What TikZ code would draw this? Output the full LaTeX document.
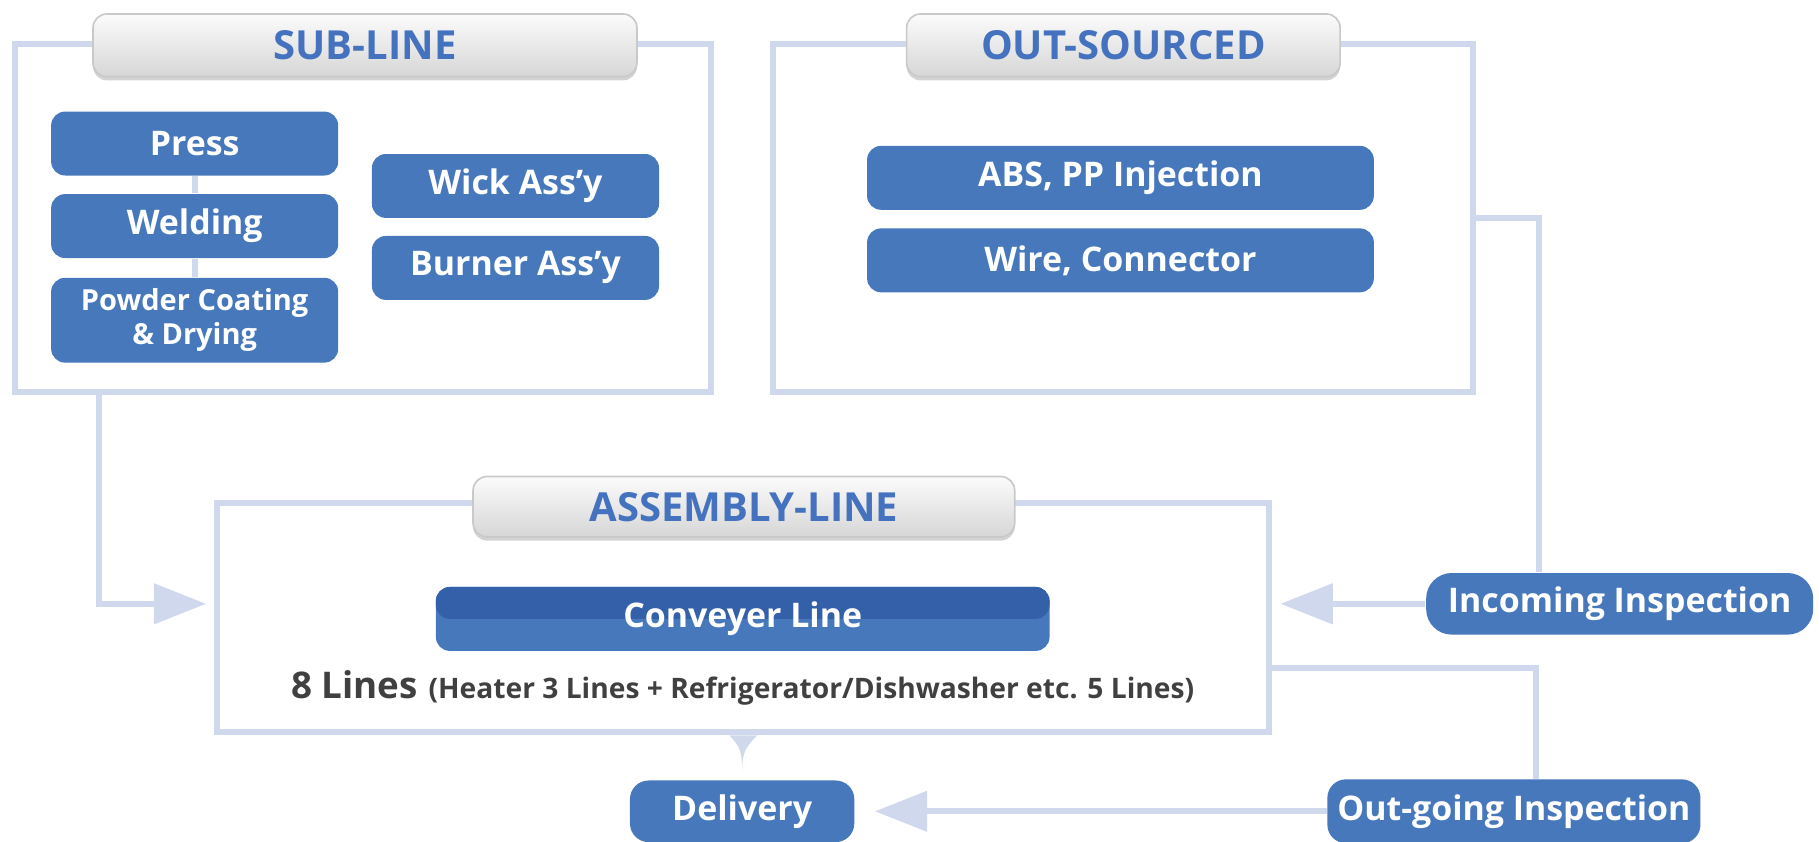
\documentclass[tikz,border=0pt]{standalone}
\usepackage{fontspec}
\setmainfont{Open Sans}
\usetikzlibrary{arrows.meta,shadows}
\definecolor{linkc}{RGB}{208,216,238}
\definecolor{boxc}{RGB}{70,120,187}
\definecolor{convtop}{RGB}{51,96,168}
\definecolor{titlec}{RGB}{68,114,190}
\definecolor{notec}{RGB}{64,64,64}
\tikzset{>/.tip={Triangle[length=0.45cm,width=0.34cm]},
  frame/.style={draw=linkc,line width=1.5pt,inner sep=0pt},
  tab/.style={rounded corners=0.12cm,top color=gray!3,bottom color=gray!32,draw=gray!42,
    line width=0.4pt,drop shadow={shadow xshift=0pt,shadow yshift=-0.9pt,opacity=0.35},
    text=titlec,font=\bfseries\fontsize{9.8}{12}\selectfont,minimum height=0.54cm,inner sep=0pt},
  stage/.style={fill=boxc,rounded corners=0.12cm,text=white,align=center,inner sep=0pt,
    font=\bfseries\fontsize{8.3}{9.3}\selectfont,minimum height=0.55cm,minimum width=2.47cm},
  check/.style={stage,rounded corners=0.22cm},
  link/.style={draw=linkc,line width=1.5pt}}

\begin{document}
\begin{tikzpicture}
\useasboundingbox (0,0) rectangle (15.65,7.24);

% frames
\node[frame,minimum width=5.99cm,minimum height=2.99cm] (sub) at (3.125,5.365) {};
\node[frame,minimum width=6.02cm,minimum height=2.99cm] (out) at (9.66,5.365) {};
\node[frame,minimum width=9.05cm,minimum height=1.97cm] (asm) at (6.395,1.925) {};

\node[tab,minimum width=4.68cm] (subtab) at (3.14,6.85) {SUB-LINE};
\node[tab,minimum width=3.73cm] (outtab) at (9.665,6.85) {OUT-SOURCED};
\node[tab,minimum width=4.66cm,minimum height=0.52cm] (asmtab) at (6.40,2.88) {ASSEMBLY-LINE};

% sub-line
\node[stage] (press) at (1.675,6.005) {Press};
\node[stage] (welding) at (1.675,5.295) {Welding};
\node[stage,minimum height=0.73cm,font=\bfseries\fontsize{7.1}{8.4}\selectfont] (powder) at (1.675,4.485) {Powder Coating\\\& Drying};
\node[stage] (wick) at (4.435,5.64) {Wick Ass’y};
\node[stage] (burner) at (4.435,4.935) {Burner Ass’y};

\draw[link] (press) to (welding);
\draw[link] (welding) to (powder);

% out-sourced
\node[stage,minimum width=4.36cm] (abs) at (9.64,5.71) {ABS, PP Injection};
\node[stage,minimum width=4.36cm] (wire) at (9.64,5.00) {Wire, Connector};

% assembly-line
\node[stage,minimum width=5.28cm,
  path picture={\fill[convtop] (path picture bounding box.north west) rectangle (path picture bounding box.east);}]
  (conveyer) at (6.39,1.915) {Conveyer Line};
\node[text=notec,font=\bfseries,inner sep=0pt] (note) at (6.39,1.32)
  {{\fontsize{9}{11}\selectfont 8 Lines} {\fontsize{6.9}{8}\selectfont (Heater 3 Lines + Refrigerator/Dishwasher etc. 5 Lines)}};

% inspection, delivery
\node[check,minimum width=3.33cm,minimum height=0.53cm] (incoming) at (13.935,2.045) {Incoming Inspection};
\node[stage,minimum width=3.21cm,rounded corners=0.16cm] (outgoing) at (13.025,0.26) {Out-going Inspection};
\node[stage,minimum width=1.93cm,minimum height=0.53cm,rounded corners=0.16cm] (delivery) at (6.385,0.26) {Delivery};

\coordinate (subdrop) at ([xshift=0.75cm]sub.south west);
\coordinate (dtip) at ([yshift=0.06cm]delivery.north);

\draw[link,->] (subdrop) |- ([xshift=-0.07cm]asm.west |- incoming);
\draw[link] (out.east) -| ([xshift=0.98cm]incoming.north west);
\draw[link,->] (incoming) to ([xshift=0.07cm]asm.east |- incoming);
\draw[link] ([yshift=-0.435cm]asm.east) -| ([xshift=1.8cm]outgoing.north west);
\draw[link,->] (outgoing) to ([xshift=0.17cm]delivery.east);
\fill[linkc] ([xshift=-0.12cm]asm.south) .. controls +(0.09,-0.1) and +(0,0.2) .. (dtip)
  .. controls +(0,0.2) and +(-0.09,-0.1) .. ([xshift=0.12cm]asm.south) -- cycle;
\end{tikzpicture}
\end{document}
